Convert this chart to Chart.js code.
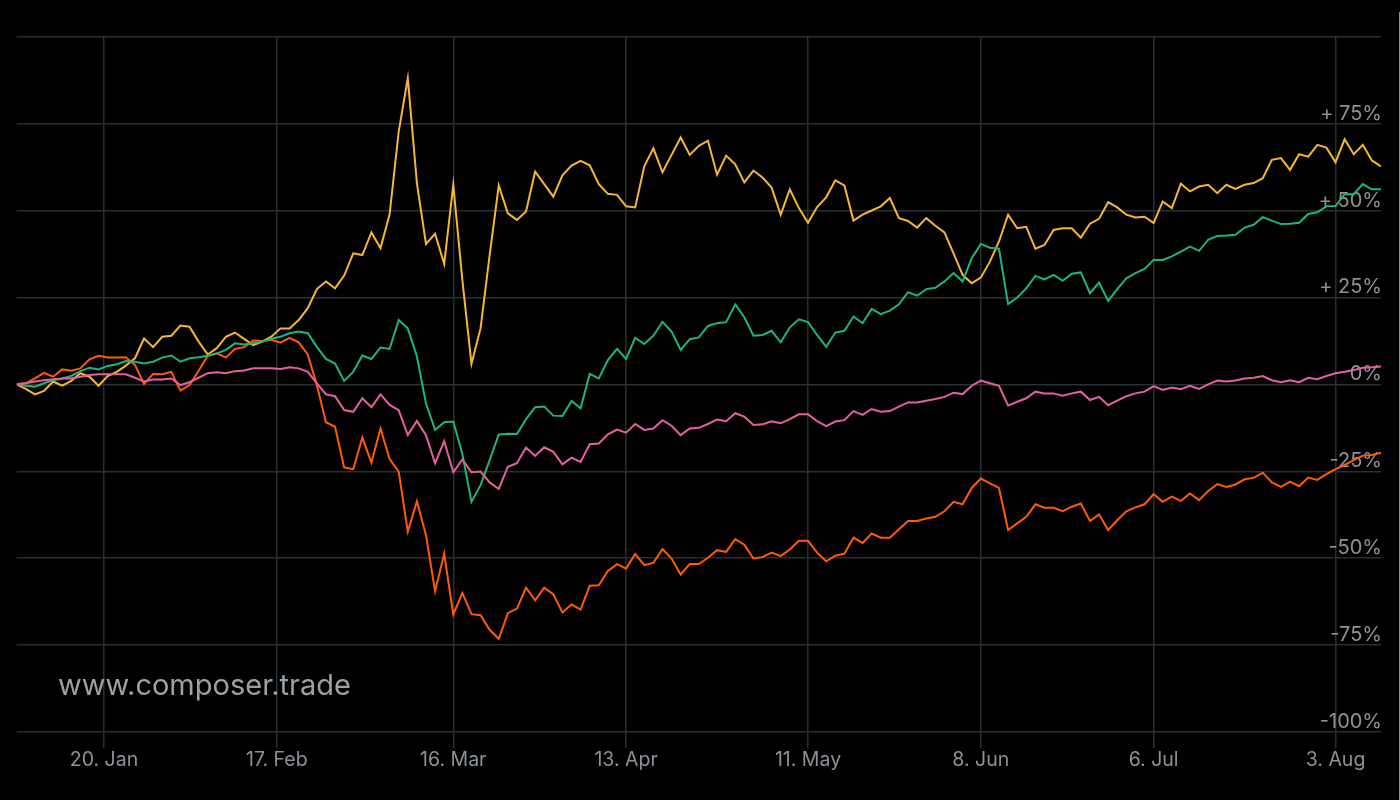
<!DOCTYPE html>
<html>
<head>
<meta charset="utf-8">
<script src="https://cdn.jsdelivr.net/npm/chart.js@4.4.1/dist/chart.umd.min.js"></script>
<style>
  html, body { margin: 0; padding: 0; background: #000; }
  #wrap { position: relative; width: 1400px; height: 800px; }
  canvas { display: block; }
</style>
</head>
<body>
<div id="wrap"><canvas id="c" width="1400" height="800"></canvas></div>
<script>
// Trading-day index ticks (Jan 6 2020 = index 0, Aug 10 2020 = index 150)
const tickPositions = [9.6, 28.6, 48, 67, 87, 106, 125, 145];
const tickLabels = ["20. Jan", "17. Feb", "16. Mar", "13. Apr", "11. May", "8. Jun", "6. Jul", "3. Aug"];
const yTicks = [-100, -75, -50, -25, 0, 25, 50, 75, 100];

// Cumulative return (%) per trading day
const seriesYellow = [
  0, -1.3, -2.9, -1.9, 0.8, -0.4, 1.0, 3.2, 2.2, -0.4,
  2.4, 3.6, 5.4, 7.5, 13.2, 10.7, 13.7, 14.0, 16.9, 16.6,
  12.3, 8.6, 10.4, 13.7, 14.9, 13.1, 11.3, 12.3, 13.7, 16.1,
  16.1, 18.5, 21.9, 27.4, 29.6, 27.6, 31.3, 37.7, 37.2, 43.7,
  39.2, 48.9, 72.7, 88.1, 57.9, 40.4, 43.3, 34.6, 57.4, 30.0,
  5.9, 16.1, 37.2, 57.2, 49.2, 47.3, 49.7, 61.2, 57.6, 54.0,
  60.1, 62.9, 64.3, 63.0, 57.6, 54.8, 54.5, 51.2, 50.9, 62.7,
  67.9, 61.0, 66.0, 71.0, 66.0, 68.6, 70.1, 60.3, 65.8, 63.3,
  58.1, 61.5, 59.5, 56.6, 48.8, 56.1, 50.7, 46.5, 51.0, 53.8,
  58.7, 57.2, 47.1, 48.8, 50.0, 51.2, 53.6, 47.8, 47.0, 45.1,
  47.8, 45.6, 43.7, 37.7, 31.5, 29.1, 30.7, 35.3, 41.1, 48.8,
  44.9, 45.3, 39.0, 40.1, 44.4, 44.9, 44.9, 42.2, 46.2, 47.6,
  52.4, 50.9, 48.8, 48.0, 48.2, 46.4, 52.6, 50.7, 57.7, 55.5,
  56.9, 57.4, 55.0, 57.4, 56.2, 57.4, 57.9, 59.3, 64.6, 65.1,
  61.7, 66.2, 65.5, 68.9, 68.1, 63.9, 70.5, 66.2, 68.9, 64.4,
  62.7
];
const seriesGreen = [
  0, -0.4, -0.7, 0.3, 1.2, 1.7, 2.4, 3.8, 4.8, 4.3,
  5.3, 5.8, 6.7, 6.5, 6.0, 6.5, 7.7, 8.3, 6.5, 7.5,
  7.8, 8.2, 8.9, 9.9, 11.8, 11.5, 11.8, 12.3, 13.1, 13.7,
  14.7, 15.2, 14.7, 10.8, 7.3, 6.0, 1.0, 3.6, 8.3, 7.3,
  10.6, 10.2, 18.5, 16.1, 8.0, -5.5, -13.1, -10.9, -10.7, -20.0,
  -33.8, -29.0, -21.8, -14.4, -14.2, -14.3, -10.0, -6.6, -6.4, -9.0,
  -9.1, -4.8, -6.9, 3.0, 1.7, 7.0, 10.2, 7.3, 13.4, 11.6,
  14.0, 18.0, 15.2, 9.9, 13.0, 13.5, 16.8, 17.6, 17.9, 23.0,
  19.3, 14.0, 14.2, 15.4, 12.1, 16.4, 18.7, 17.9, 14.2, 10.8,
  14.9, 15.4, 19.5, 17.6, 21.7, 20.2, 21.2, 23.0, 26.5, 25.5,
  27.4, 27.8, 29.6, 32.0, 29.6, 36.3, 40.4, 39.3, 39.0, 23.1,
  25.0, 27.6, 31.2, 30.2, 31.5, 29.8, 31.8, 32.2, 26.2, 29.3,
  24.0, 27.4, 30.5, 32.0, 33.2, 35.8, 35.8, 36.8, 38.2, 39.6,
  38.4, 41.6, 42.7, 42.8, 43.0, 45.1, 45.9, 48.1, 47.1, 46.1,
  46.2, 46.5, 49.0, 49.5, 51.2, 51.3, 54.7, 54.7, 57.6, 56.1,
  56.1
];
const seriesPink = [
  0, 0.3, 0.8, 1.2, 1.5, 1.7, 1.7, 2.2, 2.7, 2.9,
  2.9, 2.9, 2.9, 1.9, 0.8, 1.4, 1.4, 1.7, -0.2, 0.6,
  1.9, 3.2, 3.5, 3.2, 3.8, 4.0, 4.6, 4.6, 4.6, 4.4,
  4.9, 4.6, 3.6, 0.3, -2.9, -3.4, -7.4, -7.9, -4.0, -6.6,
  -2.9, -5.9, -7.4, -14.6, -10.5, -14.6, -22.7, -16.3, -25.3, -21.6,
  -25.3, -25.1, -28.2, -30.1, -23.7, -22.7, -18.2, -20.6, -18.1, -19.4,
  -23.0, -21.1, -22.3, -17.2, -17.0, -14.4, -13.0, -13.9, -11.4, -13.1,
  -12.7, -10.3, -11.9, -14.6, -12.7, -12.5, -11.4, -10.1, -10.6, -8.3,
  -9.3, -11.7, -11.5, -10.6, -11.2, -10.0, -8.6, -8.6, -10.6, -12.0,
  -10.7, -10.3, -7.7, -8.8, -7.1, -7.9, -7.7, -6.4, -5.2, -5.2,
  -4.7, -4.2, -3.6, -2.4, -2.8, -0.4, 1.1, 0.3, -0.4, -6.1,
  -5.0, -4.0, -2.1, -2.6, -2.6, -3.3, -2.6, -2.1, -4.5, -3.6,
  -6.0, -4.7, -3.4, -2.6, -2.1, -0.5, -1.6, -0.9, -1.4, -0.4,
  -1.3, 0.0, 1.1, 0.8, 1.1, 1.7, 1.9, 2.4, 1.2, 0.6,
  1.2, 0.6, 1.9, 1.5, 2.4, 3.2, 3.6, 4.1, 4.8, 4.9,
  5.1
];
const seriesOrange = [
  0, 0.3, 1.7, 3.3, 2.2, 4.3, 3.9, 4.6, 7.2, 8.2,
  7.7, 7.7, 7.8, 5.6, 0.1, 3.0, 2.9, 3.6, -1.8, -0.2,
  3.9, 8.2, 8.9, 7.7, 10.2, 10.7, 12.6, 12.5, 12.8, 12.0,
  13.4, 12.1, 8.6, -0.2, -10.9, -12.2, -23.9, -24.4, -15.3, -22.5,
  -12.7, -21.5, -25.1, -42.4, -33.6, -43.4, -59.5, -48.7, -66.2, -60.0,
  -66.1, -66.4, -70.6, -73.2, -65.8, -64.5, -58.5, -62.1, -58.5, -60.4,
  -65.6, -63.3, -64.8, -57.9, -57.8, -53.7, -51.7, -53.0, -48.8, -52.0,
  -51.3, -47.4, -50.1, -54.7, -51.7, -51.7, -49.9, -47.7, -48.2, -44.5,
  -46.1, -50.1, -49.7, -48.4, -49.4, -47.5, -45.0, -45.0, -48.4, -50.9,
  -49.3, -48.7, -44.1, -45.6, -42.9, -44.1, -44.1, -41.7, -39.3, -39.3,
  -38.6, -38.1, -36.5, -33.8, -34.5, -29.8, -27.1, -28.5, -29.8, -41.9,
  -40.0, -38.1, -34.5, -35.5, -35.5, -36.5, -35.2, -34.3, -39.3, -37.4,
  -41.9, -39.1, -36.5, -35.4, -34.5, -31.6, -33.8, -32.3, -33.5, -31.4,
  -33.3, -30.7, -28.7, -29.5, -28.8, -27.3, -26.9, -25.4, -28.2, -29.5,
  -28.0, -29.3, -26.8, -27.5, -25.8, -24.4, -23.2, -21.8, -20.5, -20.3,
  -19.7
];

const toPoints = arr => arr.map((v, i) => ({ x: i, y: v }));

const GRID = '#293033';
const LABEL = '#8c9297';
const FONT = 'Inter, "Noto Sans", sans-serif';

const decor = {
  id: 'decor',
  afterDraw(chart) {
    const ctx = chart.ctx;
    ctx.save();
    // watermark
    ctx.fillStyle = '#9aa2a7';
    ctx.font = '29px ' + FONT;
    ctx.textAlign = 'left';
    ctx.textBaseline = 'middle';
    ctx.fillText('www.composer.trade', 58, 686);
    // right edge line
    ctx.strokeStyle = '#8f8f8f';
    ctx.lineWidth = 1;
    ctx.beginPath();
    ctx.moveTo(1399.5, 12);
    ctx.lineTo(1399.5, 800);
    ctx.stroke();
    ctx.restore();
  }
};

const ds = (data, color) => ({
  data: toPoints(data),
  borderColor: color,
  borderWidth: 2,
  pointRadius: 0,
  tension: 0,
  fill: false
});

new Chart(document.getElementById('c'), {
  type: 'line',
  data: {
    datasets: [
      ds(seriesPink, '#e5609f'),
      ds(seriesGreen, '#1cb67a'),
      ds(seriesOrange, '#ff5a05'),
      ds(seriesYellow, '#f6b634')
    ]
  },
  options: {
    responsive: false,
    animation: false,
    layout: { padding: { left: 16.7, top: 36.7, right: 0, bottom: 0 } },
    plugins: { legend: { display: false }, tooltip: { enabled: false } },
    scales: {
      x: {
        type: 'linear',
        min: 0,
        max: 150,
        afterBuildTicks: s => { s.ticks = tickPositions.map(v => ({ value: v })); },
        afterFit: s => { s.height = 68; },
        grid: { color: GRID, lineWidth: 1.5, drawTicks: true, tickLength: 16, tickColor: GRID },
        border: { display: false },
        ticks: {
          color: LABEL,
          font: { family: FONT, size: 19.5 },
          padding: 0,
          maxRotation: 0,
          autoSkip: false,
          callback: (v, i) => tickLabels[i]
        }
      },
      y: {
        type: 'linear',
        position: 'right',
        min: -100,
        max: 100,
        afterBuildTicks: s => { s.ticks = yTicks.map(v => ({ value: v })); },
        afterFit: s => { s.width = 19; },
        grid: { color: GRID, lineWidth: 1.5, drawTicks: false },
        border: { display: false },
        ticks: {
          mirror: true,
          padding: 1,
          labelOffset: -10,
          color: LABEL,
          font: { family: FONT, size: 20 },
          callback: v => v === 100 ? '' : (v > 0 ? '+ ' + v + '%' : v + '%')
        }
      }
    }
  },
  plugins: [decor]
});
</script>
</body>
</html>
